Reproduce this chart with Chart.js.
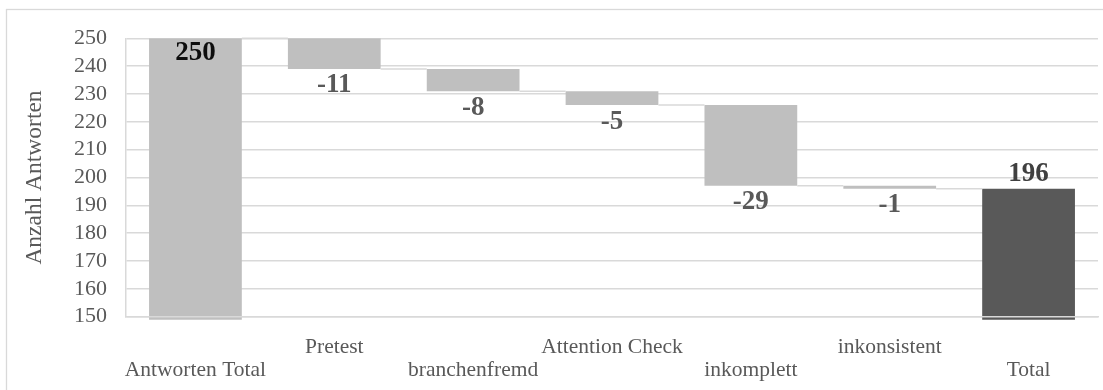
<!DOCTYPE html>
<html>
<head>
<meta charset="utf-8">
<script src="https://cdn.jsdelivr.net/npm/chart.js@4/dist/chart.umd.min.js"></script>
<style>
  html, body { margin: 0; padding: 0; background: #fff; }
  #wrap { width: 1103px; height: 390px; }
</style>
</head>
<body>
<div id="wrap"><canvas id="c" width="1103" height="390"></canvas></div>
<script>
// Waterfall: survey responses and the exclusions applied to them
const categories = ['Antworten Total', 'Pretest', 'branchenfremd', 'Attention Check', 'inkomplett', 'inkonsistent', 'Total'];
const changes = [250, -11, -8, -5, -29, -1, 196];
const isTotal = [true, false, false, false, false, false, true];
const axisMin = 150;
const axisMax = 250;
const axisStep = 10;

const GRID = '#d9d9d9';
const TEXT = '#595959';
const SERIF = '"Liberation Serif", "Times New Roman", serif';

// Floating [start, end] ranges plus the running level after each step
const ranges = [];
const levels = [];
let running = 0;
changes.forEach((v, i) => {
  if (isTotal[i]) {
    ranges.push([0, v]);
    running = v;
  } else {
    ranges.push([running + v, running]);
    running += v;
  }
  levels.push(running);
});

// Alternate label rows so long names don't collide
const staggered = categories.map((c, i) => (i % 2 ? [c, ''] : ['', c]));

const frame = {
  id: 'frame',
  beforeDraw(chart) {
    const ctx = chart.ctx;
    ctx.save();
    ctx.strokeStyle = GRID;
    ctx.lineWidth = 1.3;
    ctx.strokeRect(6.5, 9.5, 1120, 420);
    ctx.restore();
  }
};

const connectors = {
  id: 'connectors',
  afterDatasetsDraw(chart) {
    const ctx = chart.ctx;
    const meta = chart.getDatasetMeta(0);
    const y = chart.scales.y;
    ctx.save();
    ctx.strokeStyle = GRID;
    ctx.lineWidth = 1.5;
    for (let i = 0; i < meta.data.length - 1; i++) {
      const a = meta.data[i], b = meta.data[i + 1];
      const py = y.getPixelForValue(levels[i]);
      ctx.beginPath();
      ctx.moveTo(a.x + a.width / 2, py);
      ctx.lineTo(b.x - b.width / 2, py);
      ctx.stroke();
    }
    ctx.restore();
  }
};

const valueLabels = {
  id: 'valueLabels',
  afterDatasetsDraw(chart) {
    const ctx = chart.ctx;
    const meta = chart.getDatasetMeta(0);
    ctx.save();
    ctx.font = 'bold 27px ' + SERIF;
    ctx.textAlign = 'center';
    ctx.textBaseline = 'middle';
    meta.data.forEach((bar, i) => {
      const top = Math.min(bar.y, bar.base);
      const bottom = Math.max(bar.y, bar.base);
      let ty, color;
      if (i === 0) { ty = top + 14.5; color = '#0d0d0d'; }
      else if (isTotal[i]) { ty = top - 15; color = '#404040'; }
      else { ty = bottom + 16.5; color = TEXT; }
      ctx.fillStyle = color;
      ctx.fillText(String(changes[i]), bar.x, ty);
    });
    ctx.restore();
  }
};

new Chart(document.getElementById('c'), {
  type: 'bar',
  data: {
    labels: staggered,
    datasets: [{
      data: ranges,
      backgroundColor: isTotal.map((t, i) => (t && i > 0 ? '#595959' : '#bfbfbf')),
      borderWidth: 0,
      categoryPercentage: 1,
      barPercentage: 0.668,
      clip: { left: 0, top: 0, right: 0, bottom: 3 }
    }]
  },
  options: {
    responsive: false,
    animation: false,
    layout: { padding: { left: 0, right: 5, top: 38.3, bottom: 0 } },
    plugins: { legend: { display: false }, tooltip: { enabled: false } },
    scales: {
      x: {
        grid: { display: false, drawTicks: false },
        border: { display: true, color: GRID, width: 1.5, z: 1 },
        ticks: {
          autoSkip: false, maxRotation: 0, minRotation: 0,
          color: TEXT, padding: 19,
          font: { family: SERIF, size: 21.5, lineHeight: 1.08 }
        },
        afterFit(scale) { scale.height = 73.3; }
      },
      y: {
        min: axisMin, max: axisMax,
        grid: { color: GRID, lineWidth: 1.5, drawTicks: false },
        border: { display: true, color: GRID, width: 1.5 },
        ticks: {
          stepSize: axisStep, autoSkip: false, color: TEXT, padding: 19,
          font: { family: SERIF, size: 22 }
        },
        title: {
          display: true, text: 'Anzahl Antworten', color: TEXT,
          font: { family: SERIF, size: 23.5 },
          padding: { top: 21, bottom: 0 }
        },
        afterFit(scale) { scale.width = 126; }
      }
    }
  },
  plugins: [frame, connectors, valueLabels]
});
</script>
</body>
</html>
